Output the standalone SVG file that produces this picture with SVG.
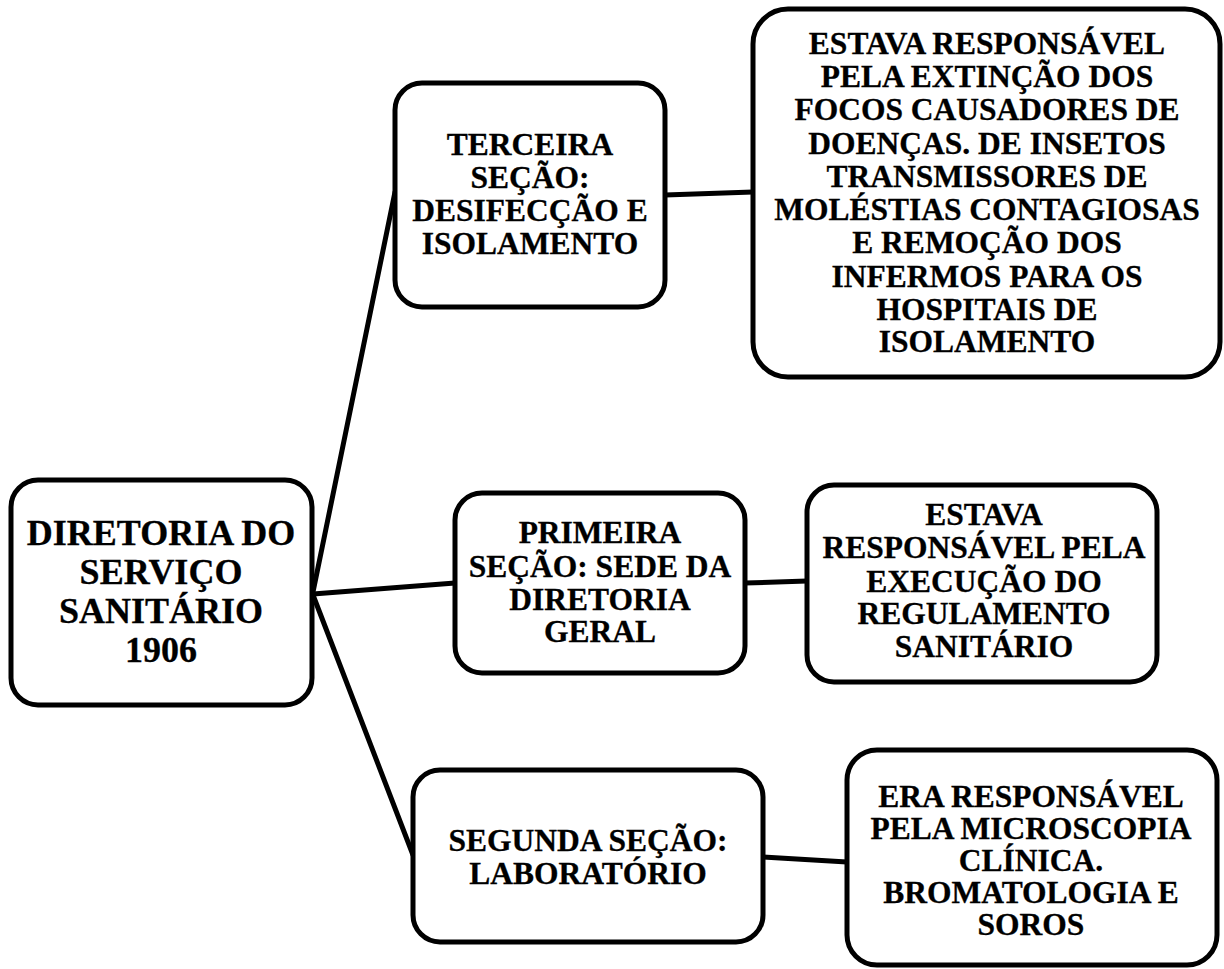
<svg xmlns="http://www.w3.org/2000/svg" width="1224" height="969" viewBox="0 0 1224 969">
<style>
.box{fill:#fff;stroke:#000;stroke-width:5}
.c{stroke:#000;stroke-width:5;fill:none;stroke-linecap:round}
text{font-family:"Liberation Serif","Times New Roman",serif;font-weight:bold;fill:#000;text-anchor:middle;stroke:#000;stroke-width:0.3}
.t{font-size:31.5px}
.m{font-size:36px}
</style>
<rect width="1224" height="969" fill="#fff"/>
<g id="connectors">
<line class="c" x1="313" y1="592" x2="395" y2="192"/>
<line class="c" x1="313" y1="594" x2="455" y2="583"/>
<line class="c" x1="313" y1="595" x2="413" y2="855"/>
<line class="c" x1="665" y1="195" x2="753" y2="192"/>
<line class="c" x1="745" y1="583" x2="807" y2="581"/>
<line class="c" x1="763" y1="857" x2="847" y2="862"/>
</g>
<g id="main">
<rect class="box" x="11" y="480" width="301" height="225" rx="27"/>
<text class="m" x="161"><tspan x="161" y="545">DIRETORIA DO</tspan><tspan x="161" y="584">SERVIÇO</tspan><tspan x="161" y="623">SANITÁRIO</tspan><tspan x="161" y="662">1906</tspan></text>
</g>
<g id="terceira">
<rect class="box" x="395" y="83" width="270" height="224" rx="27"/>
<text class="t"><tspan x="530" y="155">TERCEIRA</tspan><tspan x="530" y="188">SEÇÃO:</tspan><tspan x="530" y="221">DESIFECÇÃO E</tspan><tspan x="530" y="254">ISOLAMENTO</tspan></text>
</g>
<g id="terceira-desc">
<rect class="box" x="753" y="9" width="467" height="368" rx="35"/>
<text class="t"><tspan x="987" y="54">ESTAVA RESPONSÁVEL</tspan><tspan x="987" y="87">PELA EXTINÇÃO DOS</tspan><tspan x="987" y="120">FOCOS CAUSADORES DE</tspan><tspan x="987" y="154">DOENÇAS. DE INSETOS</tspan><tspan x="987" y="187">TRANSMISSORES DE</tspan><tspan x="987" y="220">MOLÉSTIAS CONTAGIOSAS</tspan><tspan x="987" y="253">E REMOÇÃO DOS</tspan><tspan x="987" y="287">INFERMOS PARA OS</tspan><tspan x="987" y="320">HOSPITAIS  DE</tspan><tspan x="987" y="352">ISOLAMENTO</tspan></text>
</g>
<g id="primeira">
<rect class="box" x="455" y="493" width="290" height="180" rx="27"/>
<text class="t"><tspan x="600" y="543">PRIMEIRA</tspan><tspan x="600" y="577">SEÇÃO: SEDE DA</tspan><tspan x="600" y="610">DIRETORIA</tspan><tspan x="600" y="642">GERAL</tspan></text>
</g>
<g id="primeira-desc">
<rect class="box" x="807" y="485" width="350" height="197" rx="27"/>
<text class="t"><tspan x="984" y="525">ESTAVA</tspan><tspan x="984" y="558">RESPONSÁVEL PELA</tspan><tspan x="984" y="592">EXECUÇÃO DO</tspan><tspan x="984" y="624">REGULAMENTO</tspan><tspan x="984" y="657">SANITÁRIO</tspan></text>
</g>
<g id="segunda">
<rect class="box" x="413" y="770" width="350" height="172" rx="27"/>
<text class="t"><tspan x="588" y="851">SEGUNDA SEÇÃO:</tspan><tspan x="588" y="884">LABORATÓRIO</tspan></text>
</g>
<g id="segunda-desc">
<rect class="box" x="847" y="750" width="370" height="215" rx="30"/>
<text class="t"><tspan x="1031" y="807">ERA RESPONSÁVEL</tspan><tspan x="1031" y="839">PELA MICROSCOPIA</tspan><tspan x="1031" y="871">CLÍNICA.</tspan><tspan x="1031" y="903">BROMATOLOGIA E</tspan><tspan x="1031" y="935">SOROS</tspan></text>
</g>
</svg>
